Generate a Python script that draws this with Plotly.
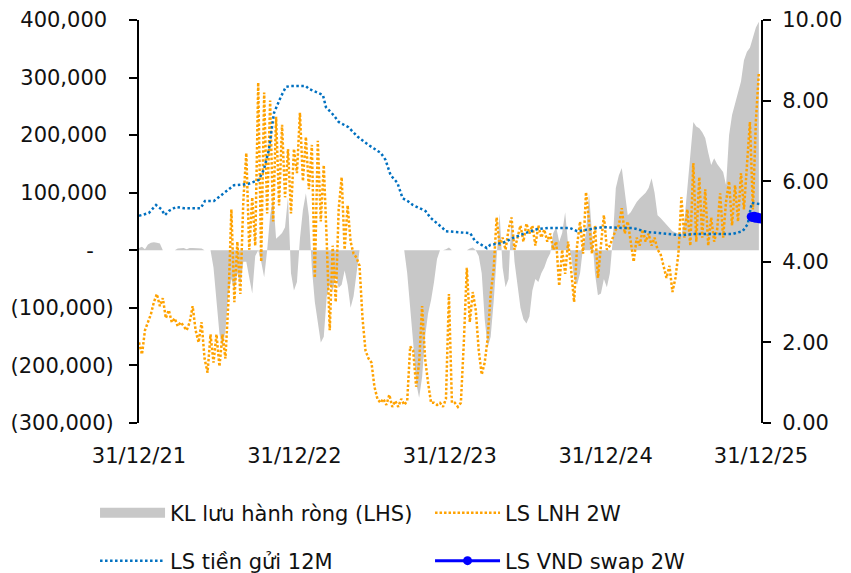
import pandas as pd
import plotly.graph_objects as go

# ---------------- data ----------------
week_dates = pd.date_range("2021-12-31", periods=209, freq="7D")

# KL lưu hành ròng (LHS), thousand units, weekly
kl_luu_hanh_k = [
    4, 6, 2, 10, 13, 14, 13, 12, 0, 0,
    0, 0, 0, 3, 4, 4, 2, 4, 4, 4,
    3, 3, 0, 0, 0, -30, -85, -145, -169, -140,
    -75, -50, -70, -40, -60, -20, -20, -50, -75, -10,
    0, -20, -47, 0, 60, 92, 20, 25, 30, 40,
    92, -40, -70, -55, 20, 70, 99, 60, -30, -90,
    -125, -160, -150, -80, -60, -70, -45, -65, -60, -35,
    -60, -100, -80, -35, 0, 0, 0, 0, 0, 0,
    0, 0, 0, 0, 0, 0, 0, 0, 0, 0,
    -40, -95, -160, -230, -256, -220, -150, -110, -87, -55,
    -15, 0, 0, 2, 5, 0, 0, 0, 0, 0,
    0, 3, 5, 0, -10, -40, -120, -169, -150, -90,
    -10, 64, -30, -64, -50, 60, -20, -60, -100, -120,
    -127, -115, -70, -50, -55, -40, -30, -15, -5, 30,
    40, 15, 30, 66, 10, -10, -50, -60, -40, 5,
    30, 99, 20, -40, -78, -75, -50, -64, -40, 20,
    108, 130, 143, 100, 61, 66, 75, 84, 90, 96,
    100, 108, 125, 100, 61, 56, 50, 44, 38, 33,
    31, 28, 26, 50, 110, 165, 223, 215, 212, 205,
    195, 170, 148, 160, 150, 143, 136, 113, 200, 235,
    255, 275, 293, 330, 345, 352, 369, 387, 397,
]
kl_luu_hanh = [v * 1000 for v in kl_luu_hanh_k]

# LS LNH 2W (%), weekly
ls_lnh_2w = [
    2.0, 1.7, 2.3, 2.5, 2.7, 3.0, 3.2, 2.9, 3.1, 2.6,
    2.8, 2.5, 2.6, 2.4, 2.5, 2.4, 2.3, 2.5, 2.9, 2.3,
    2.0, 2.5, 1.6, 1.25, 2.2, 1.5, 2.2, 1.4, 2.2, 1.6,
    3.0, 5.3, 3.0, 4.5, 3.2, 5.5, 6.7, 4.3, 5.6, 4.4,
    8.45, 4.0, 8.2, 5.2, 8.0, 5.0, 7.6, 5.4, 7.4, 5.6,
    6.8, 5.2, 6.8, 6.2, 7.7, 6.0, 7.1, 5.8, 6.9, 3.6,
    7.0, 5.0, 6.4, 4.5, 2.3, 4.4, 3.0, 5.3, 6.1, 4.3,
    5.4, 4.5, 4.2, 4.1, 3.9, 2.6, 1.8, 1.6, 1.5, 0.9,
    0.6, 0.5, 0.6, 0.45, 0.7, 0.4, 0.55, 0.4, 0.6, 0.45,
    0.55, 1.9, 1.8, 0.9, 1.5, 2.9, 1.6, 1.0, 0.5, 0.5,
    0.45, 0.5, 0.4, 0.6, 3.2, 0.5, 0.5, 0.4, 0.5, 2.0,
    3.85, 2.5, 3.25, 2.8, 1.8, 1.2, 1.5, 2.1, 3.2, 3.8,
    5.1, 4.4, 4.6, 4.3, 4.8, 5.1, 4.3, 4.6, 4.9, 4.5,
    4.95, 4.7, 4.9, 4.4, 4.9, 4.6, 4.8, 4.5, 4.7, 4.3,
    4.5, 3.4, 4.3, 3.7, 4.5, 3.8, 3.0, 4.4, 5.0, 4.2,
    5.73, 5.0, 4.2, 4.9, 3.6, 4.4, 5.16, 4.3, 4.4, 4.6,
    4.8, 4.9, 5.33, 4.7, 5.0, 4.5, 4.0, 4.6, 4.4, 4.8,
    4.5, 4.7, 4.4, 4.6, 4.3, 4.2, 3.9, 3.6, 3.9, 3.25,
    3.6, 4.2, 5.6, 4.6, 5.3, 4.4, 6.45, 4.5, 6.1, 4.6,
    5.8, 4.4, 5.1, 4.5, 4.8, 5.7, 4.6, 5.5, 6.0, 4.9,
    5.9, 5.0, 6.2, 5.3, 6.4, 7.47, 5.3, 7.5, 8.7,
]

# LS tiền gửi 12M (%)
deposit_dates = [
    "2021-12-31", "2022-01-23", "2022-02-09", "2022-02-21", "2022-03-02", "2022-03-11",
    "2022-03-28", "2022-04-16", "2022-05-25", "2022-06-04", "2022-06-25", "2022-07-07",
    "2022-07-28", "2022-08-11", "2022-09-13", "2022-10-08", "2022-10-20", "2022-11-01",
    "2022-11-13", "2022-11-29", "2022-12-11", "2022-12-22", "2023-01-27", "2023-02-03",
    "2023-03-08", "2023-03-15", "2023-04-02", "2023-04-14", "2023-05-07", "2023-05-29",
    "2023-06-23", "2023-07-22", "2023-08-02", "2023-08-14", "2023-08-30", "2023-09-11",
    "2023-09-23", "2023-10-05", "2023-11-04", "2023-11-16", "2023-12-14", "2023-12-21",
    "2024-02-17", "2024-02-28", "2024-03-27", "2024-04-04", "2024-05-04", "2024-05-27",
    "2024-06-25", "2024-07-23", "2024-08-18", "2024-10-08", "2024-10-25", "2024-11-24",
    "2024-12-25", "2025-02-10", "2025-03-05", "2025-04-07", "2025-05-24", "2025-06-28",
    "2025-07-24", "2025-10-25", "2025-11-18", "2025-11-30", "2025-12-09", "2025-12-31",
]
ls_tien_gui_12m = [
    5.14, 5.21, 5.41, 5.31, 5.16, 5.26, 5.36, 5.33, 5.33, 5.51, 5.51, 5.61,
    5.78, 5.90, 5.93, 6.03, 6.28, 6.77, 7.69, 8.09, 8.34, 8.36, 8.36, 8.29,
    8.14, 7.84, 7.64, 7.47, 7.34, 7.10, 6.90, 6.70, 6.53, 6.15, 5.96, 5.58,
    5.51, 5.41, 5.26, 5.09, 4.84, 4.76, 4.71, 4.52, 4.34, 4.42, 4.47, 4.59,
    4.71, 4.81, 4.84, 4.84, 4.76, 4.81, 4.86, 4.84, 4.84, 4.74, 4.69, 4.66,
    4.69, 4.69, 4.76, 4.94, 5.46, 5.43,
]

# LS VND swap 2W (%)
swap_dates = ["2025-12-08", "2025-12-11", "2025-12-15", "2025-12-18",
              "2025-12-22", "2025-12-25", "2025-12-29", "2025-12-31"]
ls_swap_2w = [5.12, 5.10, 5.13, 5.08, 5.11, 5.07, 5.09, 5.06]

# axis ticks
x_tick_dates = ["2021-12-31", "2022-12-31", "2023-12-31", "2024-12-31", "2025-12-31"]
x_tick_text = ["31/12/21", "31/12/22", "31/12/23", "31/12/24", "31/12/25"]
left_tick_vals = [-300000, -200000, -100000, 0, 100000, 200000, 300000, 400000]
left_tick_text = ["(300,000)", "(200,000)", "(100,000)", "-\u00a0\u00a0\u00a0",
                  "100,000\u00a0", "200,000\u00a0", "300,000\u00a0", "400,000\u00a0"]
right_tick_vals = [0, 2, 4, 6, 8, 10]
right_tick_text = [f"{v:.2f}" for v in right_tick_vals]

FONT = "'DejaVu Sans', sans-serif"
TXT = "#111111"
FS = 21
GRAY = "#C8C8C8"

# page body adds an 8px offset; figure is sized to fill the rest of the 851x573 window
W, H = 843, 565
PLOT_L, PLOT_T = 131, 12
PLOT_W, PLOT_H = 622.5, 403

fig = go.Figure()
fig.add_trace(go.Scatter(
    x=week_dates, y=kl_luu_hanh, name="KL lưu hành ròng (LHS)",
    mode="lines", line=dict(width=0, color=GRAY),
    fill="tozeroy", fillcolor=GRAY, yaxis="y", showlegend=False,
    legendgroup="kl",
))
# legend entry for the area series (thick swatch)
fig.add_trace(go.Scatter(
    x=[None], y=[None], name="KL lưu hành ròng (LHS)", mode="lines",
    line=dict(width=15, color=GRAY), yaxis="y", legend="legend", legendgroup="kl",
))
fig.add_trace(go.Scatter(
    x=week_dates, y=ls_lnh_2w, name="LS LNH 2W", mode="lines",
    line=dict(color="#FFA200", width=2.5, dash="2.5px,2px"),
    yaxis="y2", legend="legend",
))
fig.add_trace(go.Scatter(
    x=deposit_dates, y=ls_tien_gui_12m, name="LS tiền gửi 12M", mode="lines",
    line=dict(color="#0070C0", width=2.5, dash="2.5px,2.5px"),
    yaxis="y2", legend="legend2",
))
fig.add_trace(go.Scatter(
    x=swap_dates, y=ls_swap_2w, name="LS VND swap 2W", mode="lines+markers",
    line=dict(color="#0000FF", width=3), marker=dict(size=9, color="#0000FF"),
    yaxis="y2", legend="legend2",
))

axis_common = dict(showgrid=False, zeroline=False, tickfont=dict(size=FS, color=TXT, family=FONT))

legend_common = dict(
    orientation="h", x=-44 / PLOT_W, xanchor="left", yanchor="middle",
    entrywidth=255, entrywidthmode="pixels", itemwidth=65,
    font=dict(size=FS, family=FONT, color=TXT), bgcolor="rgba(0,0,0,0)",
)

fig.update_layout(
    width=W, height=H,
    margin=dict(l=PLOT_L, r=W - PLOT_L - PLOT_W, t=PLOT_T, b=H - PLOT_T - PLOT_H, autoexpand=False),
    paper_bgcolor="white", plot_bgcolor="white",
    font=dict(family=FONT, size=FS, color=TXT),
    showlegend=True,
    xaxis=dict(
        range=["2021-12-31", "2025-12-31"], tickvals=x_tick_dates, ticktext=x_tick_text,
        showline=False, ticks="outside", ticklen=14, tickcolor="rgba(0,0,0,0)", **axis_common,
    ),
    xaxis2=dict(
        overlaying="x", anchor="free", position=3 / 7,
        range=["2021-12-31", "2025-12-31"], tickvals=x_tick_dates,
        showticklabels=False, showline=True, linecolor="black", linewidth=2,
        ticks="outside", ticklen=7, tickwidth=2, tickcolor="black",
        showgrid=False, zeroline=False,
    ),
    yaxis=dict(
        range=[-300000, 400000], tickvals=left_tick_vals, ticktext=left_tick_text,
        showline=True, linecolor="black", linewidth=2,
        ticks="outside", ticklen=8, tickwidth=2, tickcolor="black",
        ticklabelstandoff=11,
        **axis_common,
    ),
    yaxis2=dict(
        range=[0, 10], tickvals=right_tick_vals, ticktext=right_tick_text,
        overlaying="y", side="right",
        showline=True, linecolor="black", linewidth=2,
        ticks="outside", ticklen=8, tickwidth=2, tickcolor="black",
        ticklabelstandoff=7,
        **axis_common,
    ),
    legend=dict(y=-90 / PLOT_H, **legend_common),
    legend2=dict(y=-138 / PLOT_H, **legend_common),
)

fig.write_html("out.html")
